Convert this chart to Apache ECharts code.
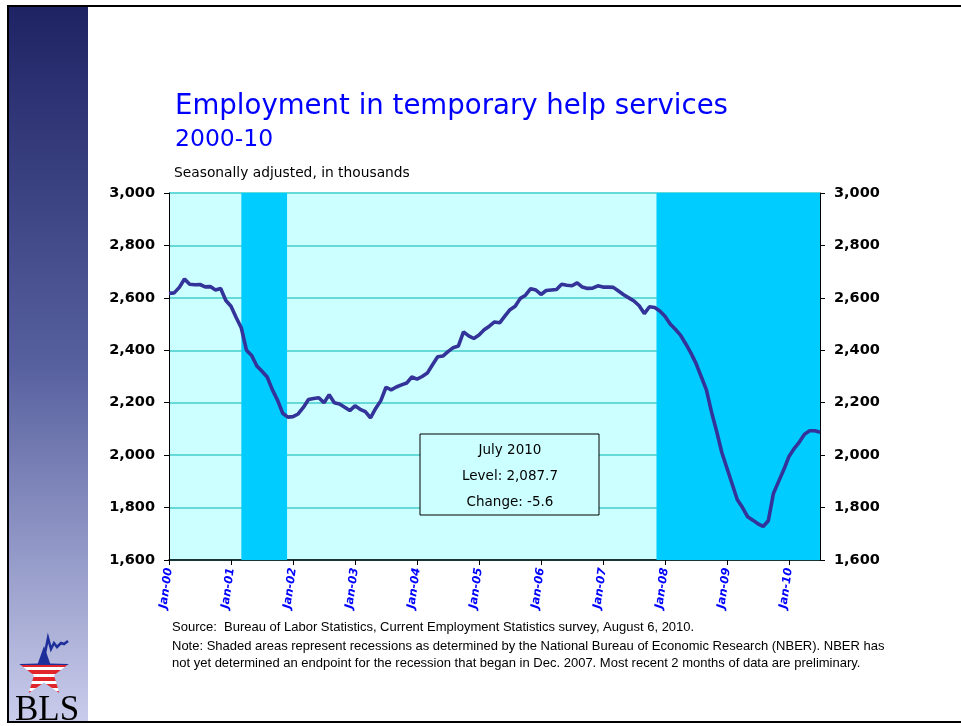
<!DOCTYPE html>
<html><head><meta charset="utf-8">
<script src="https://cdn.jsdelivr.net/npm/echarts@6/dist/echarts.min.js"></script>
<style>html,body{margin:0;padding:0;background:#fff}#c{width:961px;height:726px}</style>
</head><body><div id="c"></div>
<script>
// Monthly employment in temporary help services, Jan 2000 - Jul 2010 (thousands)
var startYear = 2000;
var xTickLabels = ['Jan-00','Jan-01','Jan-02','Jan-03','Jan-04','Jan-05','Jan-06','Jan-07','Jan-08','Jan-09','Jan-10'];
var values2000 = [2617,2619,2640,2672,2652,2650,2651,2642,2643,2630,2636,2590];
var values2001 = [2568,2525,2485,2400,2380,2340,2320,2298,2250,2210,2160,2145];
var values2002 = [2147,2157,2182,2212,2216,2219,2200,2230,2200,2195,2183,2170];
var values2003 = [2188,2175,2166,2142,2178,2208,2259,2249,2260,2268,2275,2298];
var values2004 = [2290,2300,2313,2345,2375,2378,2395,2410,2416,2470,2455,2445];
var values2005 = [2458,2478,2492,2508,2505,2530,2555,2568,2598,2610,2635,2630];
var values2006 = [2613,2628,2630,2632,2652,2648,2646,2657,2641,2636,2637,2646];
var values2007 = [2641,2641,2640,2626,2612,2600,2588,2570,2540,2566,2563,2550];
var values2008 = [2530,2500,2480,2458,2425,2390,2350,2300,2250,2165,2090,2010];
var values2009 = [1950,1890,1830,1800,1765,1752,1738,1728,1750,1855,1900,1945];
var values2010 = [1995,2025,2050,2080,2093,2093.3,2087.7];
var yTicks = [1600,1800,2000,2200,2400,2600,2800,3000];
// recession periods, in months since Jan 2000 (shaded)
var recessions = [[14, 22.85], [94.35, 126]];
var boxLines = ['July 2010', 'Level: 2,087.7', 'Change: -5.6'];

var allValues = [].concat(values2000,values2001,values2002,values2003,values2004,values2005,values2006,values2007,values2008,values2009,values2010);
var seriesData = allValues.map(function(v,i){ return [i, v]; });
var lastIdx = allValues.length - 1;

function fmt(v){ return v.toLocaleString('en-US'); }

// star polygon points for the logo
function starPoints(cx, cy, R, r){
  var pts = [];
  for (var k = 0; k < 10; k++){
    var ang = (-90 + k*36) * Math.PI/180, rad = (k % 2 === 0) ? R : r;
    pts.push([cx + rad*Math.cos(ang), cy + rad*Math.sin(ang)]);
  }
  return pts;
}
var starStops = [{offset:0,color:'#1E2E9A'},{offset:0.4,color:'#1E2E9A'},{offset:0.4,color:'#E0262B'}];
for (var s = 0; s < 8; s++){
  var o = 0.4 + s*0.075;
  starStops.push({offset:o+0.0375, color: s%2===0 ? '#E0262B' : '#FFFFFF'});
  starStops.push({offset:o+0.0375, color: s%2===0 ? '#FFFFFF' : '#E0262B'});
}
starStops.push({offset:1,color:'#E0262B'});

var chart = echarts.init(document.getElementById('c'));
var yAxisCommon = {
  type:'value', min: yTicks[0], max: yTicks[yTicks.length-1], interval: 200,
  axisLine:{show:true, lineStyle:{color:'#000', width:1}},
  axisTick:{show:true, length:5, lineStyle:{color:'#000'}},
  axisLabel:{color:'#000', fontWeight:'bold', fontSize:14.5, fontFamily:'DejaVu Sans', formatter: fmt, margin:14},
};
var footFont = '13px "Liberation Sans", Arial, sans-serif';
chart.setOption({
  animation:false,
  grid:{left:169, right:141, top:193, bottom:166, show:true, backgroundColor:'#CCFFFF', borderWidth:0},
  xAxis:{
    type:'value', min:0, max:lastIdx, interval:12,
    axisLine:{show:true, onZero:false, lineStyle:{color:'#000', width:1.5}},
    axisTick:{show:true, length:5, lineStyle:{color:'#000'}},
    splitLine:{show:false},
    axisLabel:{
      rotate:82, color:'#0000FF', fontWeight:'bold', fontStyle:'italic', fontSize:11.5, fontFamily:'DejaVu Sans',
      showMaxLabel:false, margin:8,
      formatter:function(v){ return (v % 12 === 0) ? (xTickLabels[v/12] || '') : ''; }
    }
  },
  yAxis:[
    Object.assign({}, yAxisCommon, {position:'left', splitLine:{show:true, lineStyle:{color:'#66D9D9', width:2}}}),
    Object.assign({}, yAxisCommon, {position:'right', splitLine:{show:false}})
  ],
  series:[{
    type:'line', data: seriesData, yAxisIndex:0, showSymbol:false, symbol:'none',
    lineStyle:{color:'#333399', width:3.6}, z:5,
    markArea:{silent:true, itemStyle:{color:'#00CCFF', opacity:1},
      data: recessions.map(function(r){ return [{xAxis:r[0]},{xAxis:r[1]}]; })
    }
  }],
  graphic:[
    {type:'rect', shape:{x:9,y:7,width:79,height:714}, silent:true, z:0,
     style:{fill:new echarts.graphic.LinearGradient(0,0,0,1,[{offset:0,color:'#1E2364'},{offset:0.5,color:'#57609F'},{offset:1,color:'#C9CCEB'}])}},
    {type:'rect', shape:{x:8,y:6,width:955,height:716}, silent:true, z:10, style:{fill:null, stroke:'#000', lineWidth:2}},
    {type:'text', x:175, y:107, z:10, style:{text:'Employment in temporary help services', fill:'#0000FF', font:'27.6px "DejaVu Sans"', textVerticalAlign:'middle'}},
    {type:'text', x:175, y:140, z:10, style:{text:'2000-10', fill:'#0000FF', font:'23.5px "DejaVu Sans"', textVerticalAlign:'middle'}},
    {type:'text', x:174, y:173, z:10, style:{text:'Seasonally adjusted, in thousands', fill:'#000', font:'13.8px "DejaVu Sans"', textVerticalAlign:'middle'}},
    {type:'rect', shape:{x:420,y:434,width:179,height:81}, z:10, style:{fill:'#CCFFFF', stroke:'#000', lineWidth:1}},
    {type:'text', x:510, y:450, z:11, style:{text:boxLines[0], fill:'#000', font:'13.5px "DejaVu Sans"', textAlign:'center', textVerticalAlign:'middle'}},
    {type:'text', x:510, y:476, z:11, style:{text:boxLines[1], fill:'#000', font:'13.5px "DejaVu Sans"', textAlign:'center', textVerticalAlign:'middle'}},
    {type:'text', x:510, y:502, z:11, style:{text:boxLines[2], fill:'#000', font:'13.5px "DejaVu Sans"', textAlign:'center', textVerticalAlign:'middle'}},
    {type:'text', x:172, y:627, z:10, style:{text:'Source:  Bureau of Labor Statistics, Current Employment Statistics survey, August 6, 2010.', fill:'#000', font:footFont, textVerticalAlign:'middle'}},
    {type:'text', x:172, y:646, z:10, style:{text:'Note: Shaded areas represent recessions as determined by the National Bureau of Economic Research (NBER). NBER has', fill:'#000', font:footFont, textVerticalAlign:'middle'}},
    {type:'text', x:172, y:663, z:10, style:{text:'not yet determined an endpoint for the recession that began in Dec. 2007. Most recent 2 months of data are preliminary.', fill:'#000', font:footFont, textVerticalAlign:'middle'}},
    // BLS logo
    {type:'polygon', z:10, shape:{points:starPoints(44, 672, 26, 10.5)},
     style:{fill:new echarts.graphic.LinearGradient(0,0,0,1,starStops)}},
    {type:'polyline', z:11, shape:{points:[[44,658],[46,648],[48,638],[51,649],[54,643],[57,647],[61,643],[64,644],[68,641]]}, style:{stroke:'#1E2E9A', lineWidth:2.5, fill:null}},
    {type:'text', x:47, y:711, z:10, style:{text:'BLS', fill:'#000', font:'35px "Liberation Serif"', textAlign:'center', textVerticalAlign:'middle'}}
  ]
});
</script></body></html>
